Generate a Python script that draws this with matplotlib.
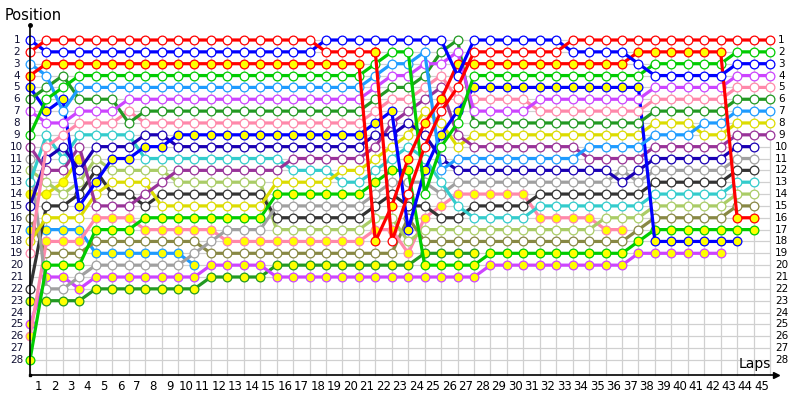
import matplotlib
matplotlib.use("Agg")
import matplotlib.pyplot as plt
import numpy as np

N = None

# column 0 is the grid, column k the position after lap k
laps = list(range(46))
lap_labels = [str(i) for i in range(1, 46)]
pos_labels = [str(i) for i in range(1, 29)]

red_w = [2, 1, 1, 1, 1, 1, 1, 1, 1, 1, 1, 1, 1, 1, 1, 1, 1, 1, 2, 2,
         2, 2, 18, 14, 10, 7, 5, 2, 2, 2, 2, 2, 2, 1, 1, 1, 1, 1, 1, 1,
         1, 1, 1, 1, 1, 1]
blue_w = [1, 2, 2, 2, 2, 2, 2, 2, 2, 2, 2, 2, 2, 2, 2, 2, 2, 2, 1, 1,
          1, 1, 1, 1, 1, 1, 4, 1, 1, 1, 1, 1, 1, 2, 2, 2, 2, 3, 4, 4,
          4, 4, 4, 3, 3, 3]
red_y = [4, 3, 3, 3, 3, 3, 3, 3, 3, 3, 3, 3, 3, 3, 3, 3, 3, 3, 3, 3,
         3, 18, 15, 11, 8, 6, 3, 3, 3, 3, 3, 3, 3, 3, 3, 3, 3, 2, 2, 2,
         2, 2, 2, 16, 16, N]
green_w = [9, 6, 5, 4, 4, 4, 4, 4, 4, 4, 4, 4, 4, 4, 4, 4, 4, 4, 4, 4,
           4, 3, 2, 2, 14, 10, 8, 4, 4, 4, 4, 4, 4, 4, 4, 4, 4, 4, 3, 3,
           3, 3, 3, 2, 2, 2]
lblue_w = [3, 4, 7, 5, 5, 5, 5, 5, 5, 5, 5, 5, 5, 5, 5, 5, 5, 5, 5, 5,
           5, 4, 3, 3, 2, 12, 11, 11, 11, 11, 11, 11, 11, 11, 10, 10, 10, 10, 9, 9,
           9, 8, 8, 7, 7, 7]
magenta_w = [7, 8, 8, 7, 7, 7, 6, 6, 6, 6, 6, 6, 6, 6, 6, 6, 6, 6, 6, 6,
             6, 5, 4, 4, 3, 3, 2, 7, 7, 7, 7, 6, 6, 6, 6, 6, 6, 6, 5, 5,
             5, 5, 5, 4, 4, 4]
dgreen_w = [6, 5, 4, 6, 6, 6, 8, 7, 7, 7, 7, 7, 7, 7, 7, 7, 7, 7, 7, 7,
            7, 6, 5, 5, 4, 2, 1, 8, 8, 8, 8, 8, 8, 8, 8, 8, 8, 8, 7, 7,
            7, 7, 7, 6, 6, 6]
pink_w = [19, 10, 9, 8, 8, 8, 7, 8, 8, 8, 8, 8, 8, 8, 8, 8, 8, 8, 8, 8,
          8, 7, 6, 6, 5, 4, 6, 6, 6, 6, 6, 7, 7, 7, 7, 7, 7, 7, 6, 6,
          6, 6, 6, 5, 5, 5]
blue_y = [5, 7, 6, 15, 13, 11, 11, 10, 10, 9, 9, 9, 9, 9, 9, 9, 9, 9, 9, 9,
          9, 8, 7, 17, 12, 9, 7, 5, 5, 5, 5, 5, 5, 5, 5, 5, 5, 5, 18, 18,
          18, 18, 18, 18, N, N]
dblue_w = [15, 11, 10, 12, 10, 10, 10, 9, 9, 10, 10, 10, 10, 10, 10, 10, 10, 10, 10, 10,
           10, 9, 9, 8, 9, 11, 12, 12, 12, 12, 12, 12, 12, 12, 12, 12, 13, 12, 11, 11,
           11, 11, 11, 10, 10, N]
purple_w = [10, 12, 12, 10, 15, 15, 15, 14, 13, 12, 12, 12, 12, 12, 12, 12, 11, 11, 11, 11,
            11, 10, 8, 7, 6, 5, 9, 10, 10, 10, 10, 10, 10, 10, 11, 11, 11, 11, 10, 10,
            10, 10, 10, 9, 9, 9]
yellow_w = [18, 16, 16, 16, 14, 13, 13, 13, 15, 15, 15, 15, 15, 15, 15, 13, 13, 13, 13, 12,
            12, 11, 10, 9, 7, 8, 10, 9, 9, 9, 9, 9, 9, 9, 9, 9, 9, 9, 8, 8,
            8, 9, 9, 8, 8, 8]
cyan_w = [13, 9, 11, 9, 9, 9, 9, 11, 11, 11, 11, 11, 11, 11, 11, 11, 12, 12, 12, 13,
          13, 12, 11, 10, 11, 13, 15, 16, 16, 16, 16, 15, 15, 15, 15, 15, 15, 15, 14, 14,
          14, 14, 14, 13, 13, N]
green_y = [28, 20, 20, 20, 17, 17, 17, 16, 16, 16, 16, 16, 16, 16, 16, 14, 14, 14, 14, 14,
           14, 13, 12, 12, 20, 20, 20, 20, 19, 19, 19, 19, 19, 19, 19, 19, 19, 18, 17, 17,
           17, 17, 17, 17, 17, N]
gray_w = [11, 22, 22, 21, 20, 20, 20, 20, 20, 20, 19, 18, 17, 17, 17, 15, 15, 15, 15, 15,
          15, 14, 13, 13, 13, 14, 13, 13, 13, 13, 13, 13, 13, 13, 13, 13, 12, 13, 12, 12,
          12, 12, 12, 11, 11, N]
black_w = [22, 15, 15, 14, 12, 14, 14, 15, 14, 14, 14, 14, 14, 14, 14, 16, 16, 16, 16, 16,
           16, 15, 14, 15, 15, 16, 16, 15, 15, 15, 15, 14, 14, 14, 14, 14, 14, 14, 13, 13,
           13, 13, 13, 12, 12, N]
lolive_w = [12, 13, 14, 13, 11, 12, 12, 12, 12, 13, 13, 13, 13, 13, 13, 17, 17, 17, 17, 17,
            17, 16, 16, 18, 17, 17, 17, 17, 17, 17, 17, 17, 17, 17, 17, 16, 16, 16, 15, 15,
            15, 15, 15, 14, 14, N]
pink_y = [26, 18, 18, 18, 16, 16, 16, 17, 17, 17, 17, 17, 18, 18, 18, 18, 18, 18, 18, 18,
          18, 17, 17, 19, 16, 15, 14, 14, 14, 14, 14, 16, 16, 16, 16, 17, 17, N, N, N,
          N, N, N, N, N, N]
olive_w = [16, 19, 19, 19, 18, 18, 18, 18, 18, 18, 18, 19, 19, 19, 19, 19, 19, 19, 19, 19,
           19, 19, 19, 16, 18, 18, 18, 18, 18, 18, 18, 18, 18, 18, 18, 18, 18, 17, 16, 16,
           16, 16, 16, 15, 15, N]
dgreen_y = [23, 23, 23, 23, 22, 22, 22, 22, 22, 22, 22, 21, 21, 21, 21, 20, 20, 20, 20, 20,
            20, 20, 20, 20, 19, 19, 19, 19, N, N, N, N, N, N, N, N, N, N, N, N,
            N, N, N, N, N, N]
magenta_y = [25, 21, 21, 22, 21, 21, 21, 21, 21, 21, 21, 20, 20, 20, 20, 21, 21, 21, 21, 21,
             21, 21, 21, 21, 21, 21, 21, 21, 20, 20, 20, 20, 20, 20, 20, 20, 20, 19, 19, 19,
             19, 19, 19, N, N, N]
lblue_y = [17, 17, 17, 17, 19, 19, 19, 19, 19, 19, 20] + [N] * 35
yellow_y = [14, 14, 13, 11] + [N] * 42

drivers = [
    (lblue_y, "#1e9bff", "#ffff00"),
    (yellow_y, "#dcdc00", "#ffff00"),
    (dgreen_y, "#229922", "#ffff00"),
    (magenta_y, "#cc44ff", "#ffff00"),
    (olive_w, "#888844", "white"),
    (pink_y, "#ff88aa", "#ffff00"),
    (lolive_w, "#aacc66", "white"),
    (black_w, "#333333", "white"),
    (gray_w, "#a0a0a0", "white"),
    (green_y, "#00cc00", "#ffff00"),
    (cyan_w, "#33cccc", "white"),
    (yellow_w, "#dcdc00", "white"),
    (purple_w, "#993399", "white"),
    (dblue_w, "#1a00b4", "white"),
    (blue_y, "#0000ff", "#ffff00"),
    (pink_w, "#ff88aa", "white"),
    (dgreen_w, "#229922", "white"),
    (magenta_w, "#cc44ff", "white"),
    (lblue_w, "#1e9bff", "white"),
    (green_w, "#00cc00", "white"),
    (red_y, "#ff0000", "#ffff00"),
    (blue_w, "#0000ff", "white"),
    (red_w, "#ff0000", "white"),
]

fig = plt.figure(figsize=(8, 4), dpi=100)
ax = fig.add_axes([30 / 800, 25 / 400, 740 / 800, 335 / 400])
ybot = 29.27
ax.set_xlim(0, 45)
ax.set_ylim(ybot, 1)
ax.axis("off")

# grid
for x in laps:
    ax.plot([x, x], [1, ybot], color="#d0d0d0", lw=0.9, zorder=0, clip_on=False)
for y in range(1, 29):
    ax.plot([0, 45], [y, y], color="#d0d0d0", lw=0.9, zorder=0, clip_on=False)

for pos, col, face in drivers:
    y = np.array([np.nan if v is None else v for v in pos], dtype=float)
    ax.plot(laps, y, "-", color=col, lw=2.3, marker="o", ms=6.3, mfc=face,
            mec=col, mew=0.9, clip_on=False, zorder=3)

# red car shows a yellow marker on lap 21
ax.plot([21], [red_w[21]], "o", ms=6.3, mfc="#ffff00", mec="#ff0000",
        mew=0.9, clip_on=False, zorder=4)

# axes with arrows
ax.plot([0, 0], [ybot, -0.27], color="black", lw=1.2, clip_on=False, zorder=5)
ax.plot([0], [-0.27], "o", color="black", ms=2.5, clip_on=False, zorder=5)
ax.plot([0, 45.35], [ybot, ybot], color="black", lw=1.2, clip_on=False, zorder=5)
ax.plot([45.35], [ybot], ">", color="black", ms=5, clip_on=False, zorder=5)
ax.plot([0], [ybot], "s", color="black", ms=2, clip_on=False, zorder=5)

for i, lab in enumerate(pos_labels):
    ax.text(-0.8, i + 1, lab, ha="center", va="center", fontsize=7.5,
            color="#111133", clip_on=False)
    ax.text(45.7, i + 1, lab, ha="center", va="center", fontsize=7.5,
            color="black", clip_on=False)
for i, lab in enumerate(lap_labels):
    ax.text(i + 0.5, 30.2, lab, ha="center", va="center", fontsize=8.5,
            color="black", clip_on=False)

fig.text(5 / 800, 1 - 15 / 400, "Position", ha="left", va="center", fontsize=10.5)
fig.text(771 / 800, 1 - 364 / 400, "Laps", ha="right", va="center", fontsize=10)

fig.savefig("out.png", dpi=100)
